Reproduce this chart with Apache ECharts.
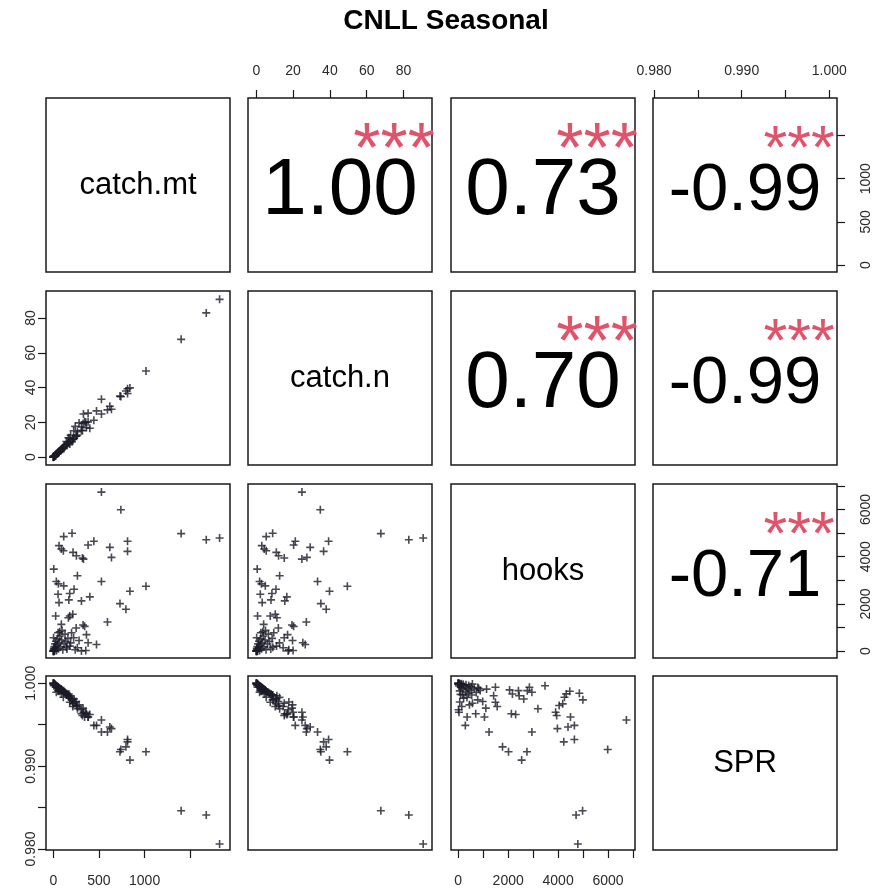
<!DOCTYPE html>
<html>
<head>
<meta charset="utf-8">
<script src="https://cdn.jsdelivr.net/npm/echarts@6/dist/echarts.min.js"></script>
<style>
  html, body { margin: 0; padding: 0; background: #ffffff; }
  #chart { width: 875px; height: 890px; }
</style>
</head>
<body>
<div id="chart"></div>
<script>
// Variable names shown on the diagonal
const varNames = ['catch.mt', 'catch.n', 'hooks', 'SPR'];

// One entry per season/stratum: catch (t), catch (thousand fish), hooks, SPR
const catchMt = [527, 740, 114, 205, 63, 88, 110, 381, 444, 619, 813, 813, 216, 253, 319, 330, 637, 5, 264, 33,
  55, 114, 527, 1015, 227, 52, 180, 839, 400, 308, 63, 170, 730, 795, 26, 180, 213, 165, 593, 88,
  326, 343, 250, 52, 200, 363, 223, 473, 381, 263, 308, 180, 143, 3, 356, 1821, 1675, 1400,
  0, 1, 2, 4, 6, 9, 12, 16, 20, 25, 30, 36, 42, 48, 56, 64, 72, 80, 92, 104, 118, 128, 138, 150,
  96, 70, 8, 15, 160, 190, 240, 282];
const catchN = [24.8, 34.8, 5.4, 8.9, 3.0, 4.3, 5.4, 20.3, 21.2, 29.3, 39.3, 36.6, 10.9, 12.1, 15.2, 24.8, 27.5, 0.5, 12.7, 1.8,
  2.8, 4.9, 33.3, 49.5, 10.7, 2.2, 8.5, 39.8, 16.6, 15.5, 3.2, 8.0, 35.1, 38.0, 0.7, 7.6, 10.3, 11.2, 27.2, 4.0,
  19.4, 20.3, 12.0, 2.5, 9.5, 17.0, 15.2, 26.6, 25.3, 14.6, 17.3, 11.0, 9.0, 0.2, 20.0, 90.7, 82.9, 67.7,
  0, 0.05, 0.1, 0.2, 0.3, 0.4, 0.6, 0.8, 1.0, 1.3, 1.5, 1.8, 2.1, 2.5, 2.9, 3.3, 3.8, 4.2, 4.8, 5.3, 6.1, 6.6, 7.2, 7.9,
  5.0, 3.6, 0.4, 0.7, 8.6, 12.6, 17.7, 19.7];
const hooks = [6736, 5987, 4851, 4993, 4468, 4326, 4255, 4496, 4652, 4397, 4652, 4227, 4184, 4043, 3943, 3900, 3972, 3475, 3191, 2950,
  2850, 2766, 2950, 2752, 2624, 2411, 2440, 2540, 2300, 2128, 2057, 2170, 2014, 1774, 1489, 1489, 1560, 1418, 1234, 1135,
  1106, 1050, 980, 780, 780, 700, 570, 284, 355, 141, 10, 215, 170, 567, 30, 4790, 4720, 4980,
  0, 0, 15, 40, 120, 60, 200, 90, 310, 150, 420, 30, 250, 520, 100, 360, 640, 180, 470, 60, 300, 720, 410, 90,
  880, 820, 0, 10, 540, 350, 60, 450];
const spr = [0.99557, 0.99201, 0.99880, 0.99800, 0.99904, 0.99872, 0.99832, 0.99593, 0.99492, 0.99473, 0.99321, 0.99293, 0.99752, 0.99732, 0.99612, 0.99650, 0.99453, 0.99971, 0.99692, 0.99892,
  0.99952, 0.99911, 0.99413, 0.99174, 0.99810, 0.99911, 0.99850, 0.99073, 0.99624, 0.99632, 0.99920, 0.99870, 0.99174, 0.99233, 0.99952, 0.99772, 0.99720, 0.99850, 0.99413, 0.99930,
  0.99700, 0.99593, 0.99780, 0.99950, 0.99800, 0.99632, 0.99760, 0.99492, 0.99593, 0.99720, 0.99680, 0.99820, 0.99860, 0.99990, 0.99650, 0.98060, 0.98411, 0.98462,
  1.00000, 0.99999, 0.99998, 0.99996, 0.99994, 0.99991, 0.99988, 0.99985, 0.99981, 0.99977, 0.99973, 0.99968, 0.99962, 0.99957, 0.99950, 0.99942, 0.99935, 0.99928, 0.99918, 0.99908, 0.99896, 0.99888, 0.99878, 0.99866,
  0.99914, 0.99937, 0.99993, 0.99987, 0.99858, 0.99830, 0.99775, 0.99740];

// Correlation coefficients (upper triangle) and their significance codes
const corrPairs = [[0, 1], [0, 2], [0, 3], [1, 2], [1, 3], [2, 3]];
const corrLabels = ['1.00', '0.73', '-0.99', '0.70', '-0.99', '-0.71'];
const signifLabels = ['***', '***', '***', '***', '***', '***'];

// Axis ticks and the subset of ticks that carry a label
const mtTicks = [0, 500, 1000, 1500];
const mtLabelTicks = [0, 500, 1000];
const nTicks = [0, 20, 40, 60, 80];
const hooksTicks = [0, 1000, 2000, 3000, 4000, 5000, 6000, 7000];
const hooksLabelTicks = [0, 2000, 4000, 6000];
const sprTicks = [0.980, 0.985, 0.990, 0.995, 1.000];
const sprLabelTicks = [0.980, 0.990, 1.000];

const chartTitle = 'CNLL Seasonal';

// ---- layout ----
const colLeft = [46, 248, 451, 653];
const rowTop = [98, 291, 484, 676];
const panelW = 184;
const panelH = 174;

const columns = [catchMt, catchN, hooks, spr];
const ranges = [[-80, 1935], [-4.5, 95.5], [-290, 7080], [0.97988, 1.00088]];
const tickSets = [mtTicks, nTicks, hooksTicks, sprTicks];
const labelSets = [mtLabelTicks, nTicks, hooksLabelTicks, sprLabelTicks];
const formatters = [
  v => String(Math.round(v)),
  v => String(Math.round(v)),
  v => String(Math.round(v)),
  v => v.toFixed(3)
];

const FONT = '"Liberation Sans", Arial, Helvetica, sans-serif';
const INK = '#1a1a1a';
const STAR_RED = '#DF536B';
const plusPath = 'path://M4,0H6V4H10V6H6V10H4V6H0V4H4Z';

const grids = [], xAxes = [], yAxes = [], series = [], graphics = [];

function axisSpec(kind, varIdx, gridIndex, position, visible) {
  const spec = {
    gridIndex: gridIndex,
    type: 'value',
    min: ranges[varIdx][0],
    max: ranges[varIdx][1],
    show: visible,
    splitLine: { show: false },
    axisLine: { show: false, onZero: false }
  };
  if (visible) {
    spec.position = position;
    spec.axisTick = {
      show: true,
      inside: false,
      customValues: tickSets[varIdx],
      length: 8,
      lineStyle: { color: INK, width: 1.2 }
    };
    const vertical = kind === 'y';
    let margin;
    if (position === 'top') margin = 20;
    else if (position === 'bottom') margin = 24;
    else if (position === 'left') margin = 8;
    else margin = 22;
    spec.axisLabel = {
      show: true,
      customValues: labelSets[varIdx],
      formatter: formatters[varIdx],
      fontFamily: FONT,
      fontSize: 14,
      color: '#2a2a2a',
      rotate: vertical ? 90 : 0,
      margin: margin,
      hideOverlap: false
    };
  }
  return spec;
}

for (let i = 0; i < 4; i++) {
  for (let j = 0; j < 4; j++) {
    const g = i * 4 + j;
    grids.push({
      left: colLeft[j], top: rowTop[i], width: panelW, height: panelH,
      show: true, borderColor: INK, borderWidth: 1.5, backgroundColor: 'transparent'
    });
    let xPos = null, yPos = null;
    if (i === 0 && (j === 1 || j === 3)) xPos = 'top';
    if (i === 3 && (j === 0 || j === 2)) xPos = 'bottom';
    if (j === 0 && (i === 1 || i === 3)) yPos = 'left';
    if (j === 3 && (i === 0 || i === 2)) yPos = 'right';
    xAxes.push(axisSpec('x', j, g, xPos, xPos !== null));
    yAxes.push(axisSpec('y', i, g, yPos, yPos !== null));

    if (i > j) {
      const xs = columns[j], ys = columns[i];
      const pts = xs.map((v, k) => [v, ys[k]]);
      series.push({
        type: 'scatter',
        xAxisIndex: g, yAxisIndex: g,
        data: pts,
        symbol: plusPath,
        symbolSize: 8,
        itemStyle: { color: '#1c1c28' },
        silent: true,
        animation: false
      });
    } else if (i === j) {
      graphics.push({
        type: 'text',
        x: colLeft[j] + panelW / 2,
        y: rowTop[i] + panelH / 2,
        style: {
          text: varNames[i], fill: '#000', font: '31px ' + FONT,
          align: 'center', verticalAlign: 'middle'
        },
        silent: true
      });
    }
  }
}

// Correlation values and significance stars in the upper panels
corrPairs.forEach((pair, k) => {
  const i = pair[0], j = pair[1];
  const long = corrLabels[k].length > 4;
  const numSize = long ? 67 : 80;
  const starSize = long ? 61 : 70;
  graphics.push({
    type: 'text',
    x: colLeft[j] + panelW / 2,
    y: rowTop[i] + panelH / 2 + 7,
    style: {
      text: corrLabels[k], fill: '#000', font: numSize + 'px ' + FONT,
      align: 'center', verticalAlign: 'middle'
    },
    silent: true
  });
  graphics.push({
    type: 'text',
    x: colLeft[j] + panelW * 0.8 - 1,
    y: rowTop[i] + panelH * 0.2 + 0.22 * starSize + 5,
    style: {
      text: signifLabels[k], fill: STAR_RED, font: starSize + 'px ' + FONT,
      align: 'center', verticalAlign: 'middle'
    },
    silent: true
  });
});

const chart = echarts.init(document.getElementById('chart'), null, { renderer: 'canvas' });
chart.setOption({
  animation: false,
  backgroundColor: '#ffffff',
  title: {
    text: chartTitle,
    left: 441, top: 2,
    textAlign: 'center',
    textStyle: { fontFamily: FONT, fontWeight: 'bold', fontSize: 28, color: '#000' }
  },
  grid: grids,
  xAxis: xAxes,
  yAxis: yAxes,
  series: series,
  graphic: graphics
});
</script>
</body>
</html>
